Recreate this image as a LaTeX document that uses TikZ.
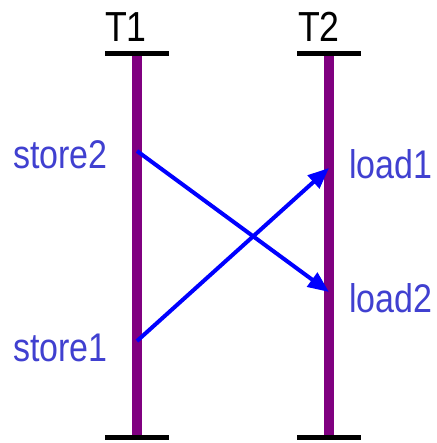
\documentclass[tikz,border=0pt]{standalone}
\usepackage{fontspec}
\setmainfont[FakeStretch=0.85]{Liberation Sans}
\usepackage{tikz}
\usetikzlibrary{arrows.meta}
\usepackage{xcolor}
\definecolor{ThreadPurple}{HTML}{800080}
\definecolor{OpBlue}{HTML}{4040D0}
\definecolor{EdgeBlue}{HTML}{0000FF}

\begin{document}
\begin{tikzpicture}[
  x=1pt,y=1pt,
  thread/.style={draw=ThreadPurple,line width=10pt},
  endmark/.style={draw=black,line width=5pt},
  order/.style={-{Triangle[length=21pt,width=17pt]},draw=EdgeBlue,line width=4pt},
  opname/.style={inner sep=0pt,anchor=base west,text=OpBlue,font=\fontsize{40}{40}\selectfont},
  tname/.style={inner sep=0pt,anchor=base,text=black,font=\fontsize{42}{42}\selectfont}
]
\useasboundingbox (0,0) rectangle (436,443);

% the two threads with their end marks
\coordinate (t1top) at (137,389.5);
\coordinate (t1bot) at (137,5.5);
\coordinate (t2top) at (329,389.5);
\coordinate (t2bot) at (329,5.5);
\draw[thread] (t1top) -- (t1bot);
\draw[thread] (t2top) -- (t2bot);
\foreach \p in {t1top,t1bot,t2top,t2bot}
  \draw[endmark] ([xshift=-32pt]\p) -- ([xshift=32pt]\p);

\node[tname] (T1) at (126,401) {T1};
\node[tname] (T2) at (319,401) {T2};

% memory operations on each thread
\coordinate (s2) at (137,292);
\coordinate (s1) at (137,102);
\coordinate (l1) at (329,275);
\coordinate (l2) at (329,151);

\node[opname] (store2) at (13,274) {store2};
\node[opname] (store1) at (13,81) {store1};
\node[opname] (load1) at (349,264) {load1};
\node[opname] (load2) at (349,130) {load2};

\draw[order] (s2) -- (l2);
\draw[order] (s1) -- (l1);

\end{tikzpicture}
\end{document}
